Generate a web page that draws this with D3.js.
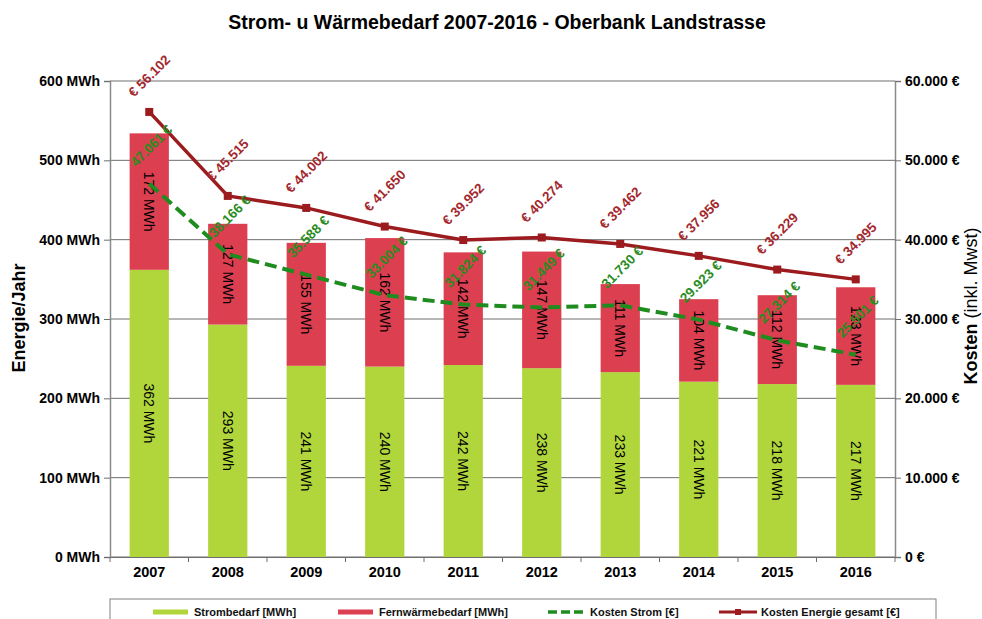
<!DOCTYPE html>
<html>
<head>
<meta charset="utf-8">
<script src="https://cdn.jsdelivr.net/npm/d3@7/dist/d3.min.js"></script>
<style>
  body { margin: 0; background: #fff; }
  text { font-family: "Liberation Sans", Arial, sans-serif; }
</style>
</head>
<body>
<div id="chart"></div>
<script>
// Chart data
var years = ["2007", "2008", "2009", "2010", "2011", "2012", "2013", "2014", "2015", "2016"];
var strom = [362, 293, 241, 240, 242, 238, 233, 221, 218, 217];
var fernwaerme = [172, 127, 155, 162, 142, 147, 111, 104, 112, 123];
var kostenStrom = [47061, 38166, 35588, 33004, 31824, 31449, 31730, 29923, 27314, 25501];
var kostenGesamt = [56102, 45515, 44002, 41650, 39952, 40274, 39462, 37956, 36229, 34995];
var energyTicks = [0, 100, 200, 300, 400, 500, 600];
var costTicks = [0, 10000, 20000, 30000, 40000, 50000, 60000];

var svgWidth = 982;
var svgHeight = 619;

var margin = { top: 81, right: 87, bottom: 62, left: 110 };
var width = svgWidth - margin.left - margin.right;
var height = svgHeight - margin.top - margin.bottom;

var colStrom = "#b0d63c";
var colFern = "#dc3f50";
var colKStrom = "#1f8c1f";
var colKGes = "#9b1b1e";

var svg = d3.select("#chart")
  .append("svg")
  .attr("width", svgWidth)
  .attr("height", svgHeight);

var chart = svg.append("g")
  .attr("transform", `translate(${margin.left}, ${margin.top})`);

// Scales
var xScale = d3.scaleBand()
  .domain(years)
  .range([0, width])
  .paddingInner(0.5)
  .paddingOuter(0.25);

var xBand = d3.scaleBand().domain(years).range([0, width]);

var yLeft = d3.scaleLinear().domain([0, 600]).range([height, 0]);
var yRight = d3.scaleLinear().domain([0, 60000]).range([height, 0]);

var euro = d3.formatLocale({ decimal: ",", thousands: ".", grouping: [3], currency: ["", " €"] });
var fmtThousands = euro.format(",.0f");

// Gridlines
chart.append("g")
  .selectAll("line")
  .data(energyTicks)
  .enter()
  .append("line")
  .attr("x1", 0)
  .attr("x2", width)
  .attr("y1", d => yLeft(d))
  .attr("y2", d => yLeft(d))
  .attr("stroke", "#6e6e6e")
  .attr("stroke-width", 1);

// Bars
var data = years.map((y, i) => ({ year: y, strom: strom[i], fern: fernwaerme[i], ks: kostenStrom[i], kg: kostenGesamt[i] }));

chart.selectAll(".bar-strom")
  .data(data)
  .enter()
  .append("rect")
  .attr("x", d => xScale(d.year))
  .attr("width", xScale.bandwidth())
  .attr("y", d => yLeft(d.strom))
  .attr("height", d => height - yLeft(d.strom))
  .attr("fill", colStrom);

chart.selectAll(".bar-fern")
  .data(data)
  .enter()
  .append("rect")
  .attr("x", d => xScale(d.year))
  .attr("width", xScale.bandwidth())
  .attr("y", d => yLeft(d.strom + d.fern))
  .attr("height", d => yLeft(d.strom) - yLeft(d.strom + d.fern))
  .attr("fill", colFern);

// Bar labels (vertical)
function barLabel(getMid, getVal) {
  chart.selectAll(null)
    .data(data)
    .enter()
    .append("text")
    .attr("transform", d => `translate(${xScale(d.year) + xScale.bandwidth() / 2}, ${getMid(d)}) rotate(90)`)
    .attr("text-anchor", "middle")
    .attr("dy", "0.35em")
    .attr("font-size", 14)
    .attr("fill", "#000")
    .text(d => getVal(d) + " MWh");
}
barLabel(d => (yLeft(0) + yLeft(d.strom)) / 2, d => d.strom);
barLabel(d => (yLeft(d.strom) + yLeft(d.strom + d.fern)) / 2, d => d.fern);

// Lines
var cx = d => xBand(d.year) + xBand.bandwidth() / 2;

chart.append("path")
  .datum(data)
  .attr("fill", "none")
  .attr("stroke", colKStrom)
  .attr("stroke-width", 4)
  .attr("stroke-dasharray", "12,6")
  .attr("d", d3.line().x(cx).y(d => yRight(d.ks)));

chart.append("path")
  .datum(data)
  .attr("fill", "none")
  .attr("stroke", colKGes)
  .attr("stroke-width", 3.5)
  .attr("d", d3.line().x(cx).y(d => yRight(d.kg)));

chart.selectAll(".marker")
  .data(data)
  .enter()
  .append("rect")
  .attr("x", d => cx(d) - 4)
  .attr("y", d => yRight(d.kg) - 4)
  .attr("width", 8)
  .attr("height", 8)
  .attr("fill", colKGes);

// Line labels (rotated)
chart.selectAll(null)
  .data(data)
  .enter()
  .append("text")
  .attr("transform", d => `translate(${cx(d)}, ${yRight(d.kg) - 36}) rotate(-45)`)
  .attr("text-anchor", "middle")
  .attr("dy", "0.35em")
  .attr("font-size", 13.5)
  .attr("font-weight", "bold")
  .attr("fill", "#a3282e")
  .text(d => "€ " + fmtThousands(d.kg));

chart.selectAll(null)
  .data(data)
  .enter()
  .append("text")
  .attr("transform", d => `translate(${cx(d) + 2}, ${yRight(d.ks) - 38}) rotate(-45)`)
  .attr("text-anchor", "middle")
  .attr("dy", "0.35em")
  .attr("font-size", 13.5)
  .attr("font-weight", "bold")
  .attr("fill", "#2a8c1e")
  .text(d => fmtThousands(d.ks) + " €");

// Axes
var leftAxis = d3.axisLeft(yLeft).tickValues(energyTicks).tickSize(6).tickFormat(d => d + " MWh");
var rightAxis = d3.axisRight(yRight).tickValues(costTicks).tickSize(6).tickFormat(d => fmtThousands(d) + " €");
var bottomAxis = d3.axisBottom(xBand).tickSize(0);

function styleAxis(g) {
  g.select(".domain").attr("stroke", "#8a8a8a").attr("stroke-width", 1.5);
  g.selectAll(".tick line").attr("stroke", "#6e6e6e");
  g.selectAll(".tick text")
    .attr("font-family", "Liberation Sans, Arial, sans-serif")
    .attr("font-size", 14)
    .attr("font-weight", "bold")
    .attr("fill", "#000");
}

chart.append("g").call(leftAxis).call(styleAxis)
  .selectAll(".tick text").attr("x", -10);

chart.append("g")
  .attr("transform", `translate(${width}, 0)`)
  .call(rightAxis).call(styleAxis)
  .selectAll(".tick text").attr("x", 10);

var xg = chart.append("g")
  .attr("transform", `translate(0, ${height})`)
  .call(bottomAxis).call(styleAxis);
xg.selectAll(".tick text").attr("dy", "1.2em").attr("font-size", 14.5);
xg.select(".domain").attr("stroke", "#6e6e6e").attr("stroke-width", 1);

// Category separator ticks
xg.selectAll(".sep")
  .data(years.concat(["end"]))
  .enter()
  .append("line")
  .attr("x1", (d, i) => i * xBand.step())
  .attr("x2", (d, i) => i * xBand.step())
  .attr("y1", 0)
  .attr("y2", 5)
  .attr("stroke", "#6e6e6e");

// Title
svg.append("text")
  .attr("x", 497)
  .attr("y", 29)
  .attr("text-anchor", "middle")
  .attr("font-size", 19.5)
  .attr("font-weight", "bold")
  .text("Strom- u Wärmebedarf 2007-2016 - Oberbank Landstrasse");

// Axis titles
svg.append("text")
  .attr("transform", "translate(25, 318) rotate(-90)")
  .attr("text-anchor", "middle")
  .attr("font-size", 18)
  .attr("font-weight", "bold")
  .text("Energie/Jahr");

var rt = svg.append("text")
  .attr("transform", "translate(977, 306) rotate(-90)")
  .attr("text-anchor", "middle")
  .attr("font-size", 18);
rt.append("tspan").attr("font-weight", "bold").text("Kosten ");
rt.append("tspan").text("(inkl. Mwst)");

// Legend
var legend = svg.append("g");
legend.append("rect")
  .attr("x", 110)
  .attr("y", 599)
  .attr("width", 826)
  .attr("height", 40)
  .attr("fill", "#fff")
  .attr("stroke", "#808080");

var legendItems = [
  { label: "Strombedarf [MWh]", x: 153, type: "bar", color: colStrom },
  { label: "Fernwärmebedarf [MWh]", x: 338, type: "bar", color: colFern },
  { label: "Kosten Strom [€]", x: 548, type: "dash", color: colKStrom },
  { label: "Kosten Energie gesamt [€]", x: 719, type: "line", color: colKGes }
];

legendItems.forEach(function(item) {
  var ly = 612;
  if (item.type === "bar") {
    legend.append("rect").attr("x", item.x).attr("y", ly - 2.5).attr("width", 35).attr("height", 5).attr("fill", item.color);
  } else if (item.type === "dash") {
    legend.append("line").attr("x1", item.x).attr("x2", item.x + 37).attr("y1", ly).attr("y2", ly)
      .attr("stroke", item.color).attr("stroke-width", 3.5).attr("stroke-dasharray", "9,4");
  } else {
    legend.append("line").attr("x1", item.x).attr("x2", item.x + 38).attr("y1", ly).attr("y2", ly)
      .attr("stroke", item.color).attr("stroke-width", 3);
    legend.append("rect").attr("x", item.x + 16).attr("y", ly - 3).attr("width", 6).attr("height", 6).attr("fill", item.color);
  }
  legend.append("text")
    .attr("x", item.x + (item.type === "bar" ? 41 : 42))
    .attr("y", ly)
    .attr("dy", "0.35em")
    .attr("font-family", "Liberation Sans Narrow, Arial Narrow, Liberation Sans, sans-serif")
    .attr("font-size", 11)
    .attr("font-weight", "bold")
    .attr("fill", "#111")
    .text(item.label);
});
</script>
</body>
</html>
